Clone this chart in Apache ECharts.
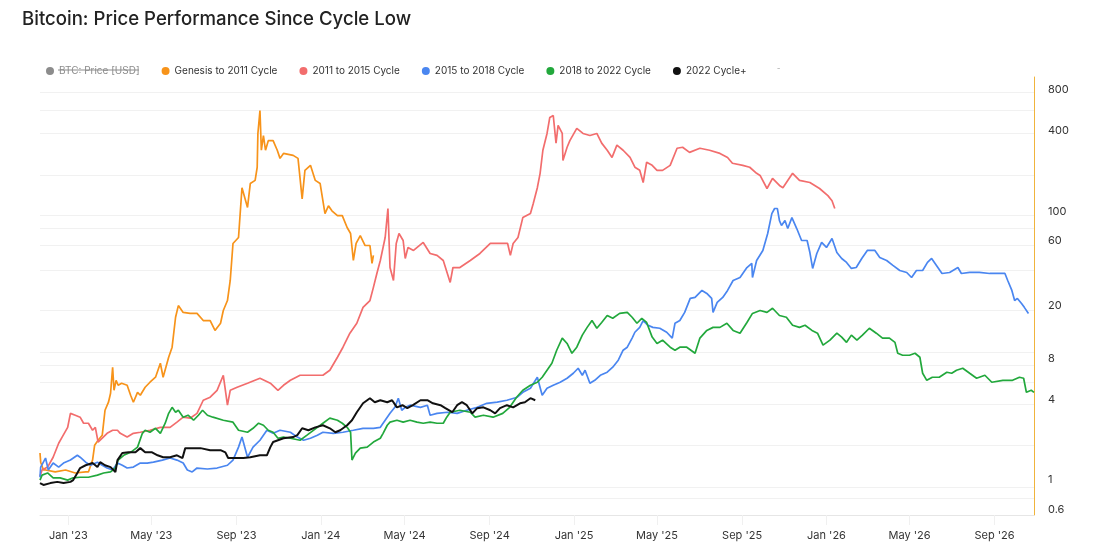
<!DOCTYPE html>
<html>
<head>
<meta charset="UTF-8">
<title>Bitcoin: Price Performance Since Cycle Low</title>
<script src="https://cdn.jsdelivr.net/npm/echarts@6/dist/echarts.min.js"></script>
<style>
  body { margin: 0; background: #fff; }
  #main { width: 1095px; height: 553px; }
</style>
</head>
<body>
<div id="main"></div>
<script>
// every cycle is laid on the calendar of the 2022 cycle: x = days since the low, y = multiple of the low price
var cycleLow = Date.UTC(2022, 10, 21);
var lastDay = 1437;

var genesis = [[0,1.59],[1,1.36],[5,1.19],[8,1.19],[22,1.15],[37,1.19],[51,1.13],[66,1.15],[70,1.15],[76,1.41],[79,1.82],[84,1.98],[90,2.16],[94,3.31],[99,3.8],[102,4.43],[105,6.92],[107,4.66],[110,5.53],[113,5.08],[118,5.26],[126,5.08],[131,4.28],[135,3.8],[141,4.5],[145,4.28],[152,4.91],[159,5.35],[167,5.83],[174,7.41],[178,5.83],[186,8.21],[191,9.75],[196,16.3],[200,19.9],[207,17.7],[217,17.4],[227,17.4],[236,15.4],[246,15.4],[253,13],[261,14.7],[265,18.3],[271,21.7],[275,30.6],[279,57.7],[287,63.9],[292,150],[300,107],[304,161],[311,170],[314,213],[315,380],[318,563],[320,285],[323,367],[326,285],[330,336],[337,336],[343,285],[347,248],[352,270],[366,261],[373,248],[379,124],[383,202],[391,220],[398,170],[405,161],[412,96.3],[417,110],[422,101],[430,93],[437,93],[444,75.8],[449,68.4],[453,43.1],[457,57.7],[463,66.1],[470,55.7],[477,55.7],[480,41],[482,47]];

var cycle2011 = [[0,1.07],[3,1.19],[11,1.25],[19,1.48],[27,1.88],[32,2.09],[40,2.47],[44,3.14],[51,3.04],[58,2.94],[63,2.65],[70,2.65],[76,2.35],[80,2.47],[84,1.92],[90,2.05],[97,2.23],[105,2.35],[112,2.35],[116,2.23],[126,2.09],[135,2.23],[145,2.27],[159,2.35],[174,2.47],[188,2.47],[198,2.7],[207,2.94],[217,2.89],[227,3.14],[236,3.93],[246,4.14],[256,4.66],[265,6.03],[271,3.61],[275,4.66],[285,4.91],[300,5.26],[318,5.73],[333,5.26],[344,4.66],[352,5.08],[362,5.53],[376,6.03],[391,6.03],[409,6.03],[419,6.57],[430,8.21],[438,9.75],[448,12.4],[458,14.7],[467,19.3],[477,21.7],[482,27.2],[487,34.5],[492,43.1],[499,63.9],[503,105],[506,38.2],[511,30.6],[515,57.7],[519,68.4],[525,60.7],[528,44.6],[532,53.9],[540,51.2],[554,58.7],[564,48.6],[574,47],[583,43.1],[593,29.6],[597,38.2],[607,38.2],[622,43.1],[636,48.6],[651,57.7],[665,57.7],[676,57.7],[680,47],[684,57.7],[691,63.9],[698,89.9],[709,96.3],[713,114],[719,150],[723,192],[727,285],[733,380],[737,500],[742,517],[746,322],[749,436],[755,380],[756,239],[762,300],[766,336],[776,415],[785,380],[795,367],[805,380],[812,322],[820,285],[827,252],[834,311],[843,285],[853,252],[860,213],[867,202],[872,164],[877,232],[885,220],[892,202],[900,202],[911,220],[921,295],[929,300],[939,275],[954,295],[968,285],[983,270],[994,252],[1001,228],[1016,220],[1026,213],[1036,192],[1041,185],[1051,148],[1059,176],[1069,156],[1074,150],[1088,192],[1098,170],[1113,164],[1127,148],[1139,131],[1145,120],[1149,105]];

var cycle2015 = [[0,1.05],[1,1.25],[8,1.46],[12,1.19],[19,1.34],[27,1.25],[34,1.34],[44,1.41],[54,1.53],[58,1.48],[66,1.36],[73,1.29],[83,1.36],[90,1.29],[97,1.23],[105,1.19],[112,1.34],[119,1.29],[126,1.23],[135,1.25],[145,1.34],[155,1.34],[164,1.36],[177,1.41],[188,1.46],[198,1.41],[207,1.34],[213,1.19],[220,1.15],[227,1.23],[242,1.21],[256,1.23],[271,1.29],[279,1.41],[287,1.76],[292,2.09],[300,1.48],[308,1.76],[318,1.98],[328,2.35],[337,2.23],[347,2.35],[362,2.27],[372,2.09],[381,1.98],[391,2.05],[401,2.16],[409,2.27],[424,2.23],[438,2.27],[453,2.35],[467,2.43],[482,2.43],[492,2.47],[499,2.79],[506,3.14],[513,3.48],[518,4.07],[523,3.31],[528,3.48],[535,3.61],[550,3.48],[560,3.61],[564,3.04],[574,3.14],[589,3.2],[603,3.14],[617,3.31],[632,3.48],[646,3.73],[661,3.8],[675,3.93],[690,4.14],[698,4.5],[709,4.83],[719,5.83],[726,4.28],[733,4.83],[742,5.08],[752,5.35],[762,5.73],[771,6.24],[778,6.8],[784,6.03],[788,6.57],[795,5.26],[802,5.53],[810,6.03],[820,6.35],[828,6.92],[836,7.8],[843,9.26],[849,9.75],[856,11.4],[860,12.6],[867,13.7],[872,15.4],[879,14.2],[886,13.7],[896,13.5],[906,12.6],[914,11.4],[918,14.7],[925,15.4],[932,17.7],[940,22.5],[947,22.9],[957,25.8],[964,24.5],[971,22.5],[973,17.7],[979,21],[987,22.9],[994,25.8],[1002,30.6],[1012,32.2],[1022,38.2],[1029,41],[1030,32.2],[1036,43.1],[1045,51.2],[1052,68.4],[1058,96.3],[1062,105],[1066,105],[1069,85.4],[1072,78.5],[1077,85.4],[1081,74.5],[1087,89.9],[1094,74.5],[1101,60.7],[1109,60.7],[1113,49.4],[1117,37.6],[1123,48.6],[1130,58.7],[1137,53.9],[1145,62.8],[1152,49.4],[1159,44.6],[1166,41.7],[1173,37.6],[1180,38.2],[1188,44.6],[1196,51.2],[1207,51.2],[1214,45.4],[1224,43.1],[1233,39.6],[1243,36.3],[1253,35.1],[1260,32.2],[1267,36.3],[1276,36.3],[1283,41.7],[1289,44.6],[1296,39.6],[1304,34.5],[1315,35.1],[1327,38.2],[1332,34.5],[1344,35.1],[1358,35.1],[1373,34.5],[1387,34.5],[1395,34.5],[1399,30.6],[1405,25.8],[1409,21.7],[1413,22.5],[1419,20.6],[1423,19.3],[1429,17.4]];

var cycle2018 = [[0,1],[3,1.09],[11,1.13],[19,1.04],[29,1.04],[40,1],[48,1.04],[58,1.05],[70,1.05],[83,1.09],[92,1.13],[102,1.15],[109,1.23],[113,1.41],[121,1.53],[131,1.61],[141,1.76],[148,2.23],[152,2.35],[159,2.27],[167,2.43],[174,2.23],[181,2.65],[186,3.14],[191,3.48],[196,3.2],[200,3.31],[207,2.94],[214,3.04],[222,2.79],[229,3.04],[235,3.31],[242,3.04],[250,2.94],[265,2.79],[279,2.7],[287,2.35],[300,2.27],[308,2.43],[316,2.65],[323,2.56],[330,2.35],[337,2.27],[344,2.05],[352,2.09],[362,2.05],[376,1.98],[386,2.16],[401,2.47],[409,2.65],[419,2.89],[430,2.79],[437,2.65],[444,2.47],[449,2.27],[451,1.41],[456,1.59],[463,1.73],[473,1.76],[482,1.92],[492,2.05],[496,2.23],[502,2.56],[506,2.7],[516,2.79],[525,2.7],[535,2.79],[545,2.7],[554,2.65],[564,2.7],[574,2.65],[583,2.65],[588,2.94],[593,3.2],[607,3.31],[622,3.2],[629,2.94],[641,3.04],[655,2.94],[669,3.14],[679,3.48],[689,4.14],[698,4.66],[709,5.08],[719,5.35],[726,5.83],[733,6.57],[740,7.41],[747,9.26],[755,11.4],[762,10.4],[769,8.79],[776,9.75],[784,12],[791,13.7],[798,15.4],[805,13.5],[812,14.9],[820,16.8],[828,16],[838,17.4],[849,17.7],[856,16.3],[863,14.7],[870,16],[877,14.9],[885,11.6],[892,10.4],[900,11],[911,9.75],[918,9.26],[925,9.75],[935,9.75],[947,8.79],[954,11.4],[964,13],[973,13.7],[983,13.7],[993,14.7],[1002,13],[1012,12.4],[1022,14.9],[1030,17.4],[1041,18.3],[1051,17.7],[1059,19],[1069,16.8],[1079,16.3],[1088,14.2],[1098,13.7],[1106,14.2],[1116,13],[1124,12.4],[1132,10.1],[1142,11],[1152,12.4],[1159,11.6],[1166,10.6],[1173,12],[1181,11],[1189,12],[1199,13.5],[1209,12.4],[1218,11.4],[1228,11.4],[1236,10.6],[1240,8.79],[1247,8.5],[1257,8.5],[1265,8.79],[1272,8.21],[1276,6.24],[1282,5.53],[1290,5.83],[1300,5.83],[1311,6.35],[1318,6.24],[1325,6.57],[1334,6.8],[1344,6.24],[1354,5.73],[1366,6.03],[1376,5.35],[1392,5.53],[1406,5.53],[1416,5.83],[1422,5.73],[1426,4.5],[1433,4.66],[1437,4.5]];

var cycle2022 = [[0,0.95],[5,0.92],[15,0.95],[25,0.97],[34,0.95],[44,0.97],[48,1],[54,1.13],[58,1.23],[66,1.29],[76,1.34],[83,1.25],[87,1.36],[94,1.29],[102,1.25],[109,1.15],[112,1.41],[119,1.59],[128,1.61],[138,1.61],[145,1.73],[152,1.61],[162,1.61],[170,1.53],[178,1.48],[188,1.48],[198,1.53],[206,1.46],[210,1.73],[217,1.73],[232,1.73],[246,1.67],[261,1.67],[268,1.61],[272,1.46],[282,1.46],[294,1.46],[304,1.48],[318,1.53],[328,1.53],[333,1.76],[337,1.92],[352,2.05],[366,2.09],[372,2.16],[379,2.43],[388,2.35],[398,2.47],[409,2.56],[419,2.43],[427,2.27],[434,2.35],[444,2.56],[451,2.79],[458,3.2],[467,3.73],[477,4.07],[484,3.8],[492,3.93],[502,3.8],[509,3.93],[516,3.48],[524,3.61],[531,3.43],[539,3.61],[550,3.93],[560,3.93],[568,3.73],[579,3.61],[586,3.43],[596,3.2],[603,3.61],[610,3.8],[617,3.61],[625,3.14],[632,3.43],[641,3.48],[651,3.31],[658,3.14],[665,3.43],[675,3.61],[684,3.48],[694,3.73],[701,3.8],[709,4.07],[716,3.93]];

var seriesNames = ['BTC: Price [USD]', 'Genesis to 2011 Cycle', '2011 to 2015 Cycle', '2015 to 2018 Cycle', '2018 to 2022 Cycle', '2022 Cycle+'];
var xTickDates = [[2023,1],[2023,5],[2023,9],[2024,1],[2024,5],[2024,9],[2025,1],[2025,5],[2025,9],[2026,1],[2026,5],[2026,9]];
var yLabelValues = [0.6, 1, 4, 8, 20, 60, 100, 400, 800];
var yGridValues = [0.735, 0.887, 1.82, 3.67, 5.35, 7.17, 8.93, 18.3, 36.3, 55.7, 74.5, 93, 185, 380, 563, 768];
var monthNames = ['Jan','Feb','Mar','Apr','May','Jun','Jul','Aug','Sep','Oct','Nov','Dec'];

var DAY = 86400000;
var xTickDays = xTickDates.map(function (d) { return (Date.UTC(d[0], d[1] - 1, 1) - cycleLow) / DAY; });

var chart = echarts.init(document.getElementById('main'));

function line(name, data, color, width) {
  return {
    name: name,
    type: 'line',
    data: data,
    showSymbol: false,
    symbol: 'none',
    color: color,
    lineStyle: { color: color, width: width },
    emphasis: { disabled: true }
  };
}

var option = {
  animation: false,
  textStyle: { fontFamily: 'Inter, "Noto Sans", sans-serif' },
  title: {
    text: 'Bitcoin: Price Performance Since Cycle Low',
    left: 17,
    top: 5,
    textStyle: { fontSize: 18.6, fontWeight: 500, color: '#222', fontFamily: 'Inter, sans-serif' }
  },
  legend: {
    left: 41,
    top: 61,
    itemGap: 22,
    itemWidth: 8,
    itemHeight: 8,
    icon: 'circle',
    inactiveColor: '#8c8c8c',
    textStyle: { fontSize: 10, color: '#333' },
    data: seriesNames,
    selected: { 'BTC: Price [USD]': false }
  },
  graphic: [
    // strike-through on the hidden BTC price entry
    { type: 'line', shape: { x1: 58, y1: 70, x2: 139, y2: 70 }, style: { stroke: '#8c8c8c', lineWidth: 1 } },
    { type: 'text', left: 777, top: 63, style: { text: '-', fill: '#bbb', fontSize: 10 } }
  ],
  grid: { left: 40, right: 61, top: 77, bottom: 38 },
  xAxis: {
    type: 'value',
    min: 0,
    max: lastDay,
    axisLine: { show: true, onZero: false, lineStyle: { color: '#e6e6e6' } },
    axisTick: { show: true, length: 10, lineStyle: { color: '#f0f0f0' }, customValues: xTickDays },
    axisLabel: {
      color: '#333',
      fontSize: 11,
      margin: 15,
      customValues: xTickDays,
      formatter: function (v) {
        var d = new Date(cycleLow + Math.round(v) * DAY);
        return monthNames[d.getUTCMonth()] + " '" + String(d.getUTCFullYear()).slice(2);
      }
    },
    splitLine: { show: false }
  },
  yAxis: {
    type: 'log',
    logBase: 10,
    position: 'right',
    min: 0.55,
    max: 1000,
    axisLine: { show: true, onZero: false, lineStyle: { color: '#f0b43c', width: 1 } },
    axisTick: { show: false, customValues: yGridValues },
    axisLabel: {
      color: '#333',
      fontSize: 11,
      margin: 14,
      customValues: yLabelValues,
      formatter: function (v) { return String(+Number(v).toPrecision(3)); }
    },
    splitLine: { show: true, lineStyle: { color: '#f1f1f1', width: 1 } }
  },
  series: [
    line(seriesNames[0], [], '#8c8c8c', 1.5),
    line(seriesNames[1], genesis, '#f7931a', 1.7),
    line(seriesNames[2], cycle2011, '#f26d6d', 1.7),
    line(seriesNames[3], cycle2015, '#4a86f0', 1.7),
    line(seriesNames[4], cycle2018, '#22a83c', 1.7),
    line(seriesNames[5], cycle2022, '#111111', 2)
  ]
};

chart.setOption(option);
</script>
</body>
</html>
